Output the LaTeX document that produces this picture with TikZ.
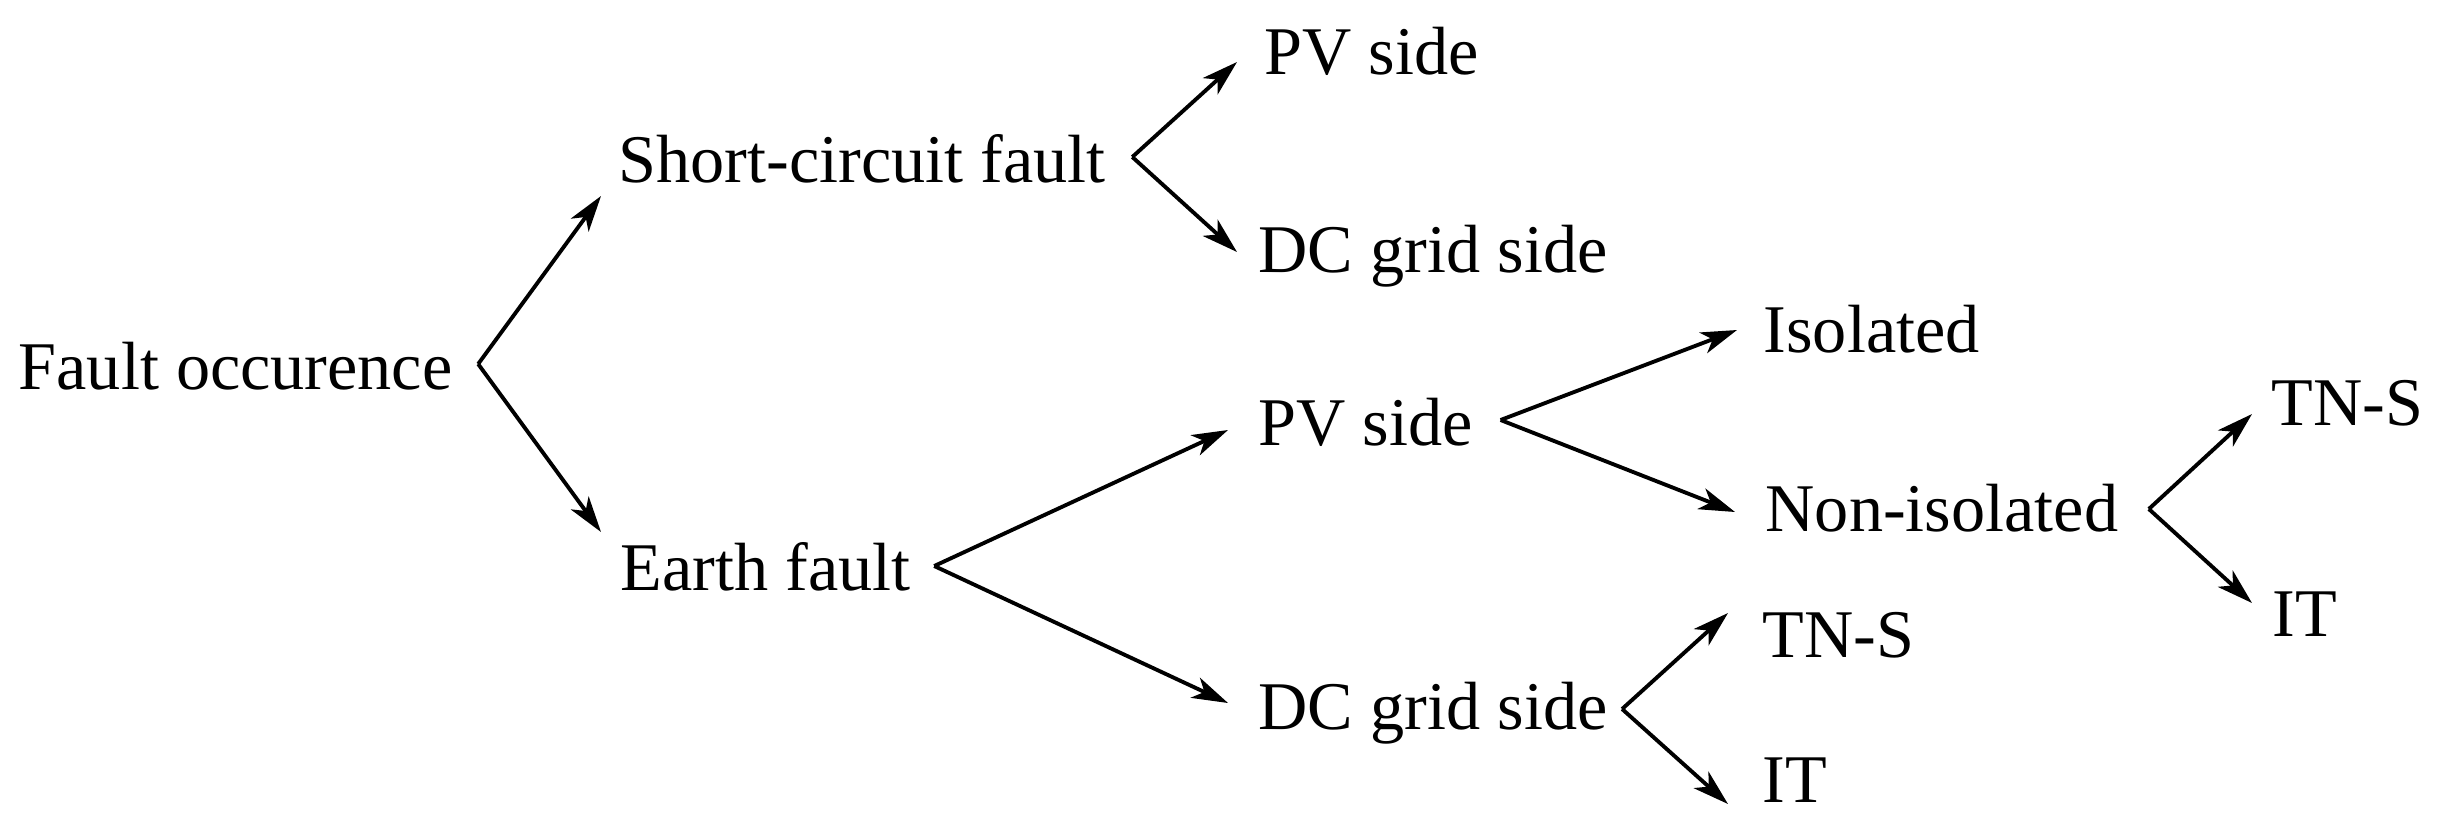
\documentclass[tikz,border=0pt]{standalone}
\usepackage{fontspec}
\setmainfont{Liberation Serif}
\usetikzlibrary{positioning, calc, arrows.meta}

\tikzset{
	txt/.style={inner sep=0pt, anchor=base west, font=\fontsize{19.4}{23}\selectfont},
	arr/.style={-{Stealth[length=0.36cm, width=0.22cm, inset=0.1cm]}, line width=1.1pt}
}

\begin{document}
\begin{tikzpicture}[x=0.01cm, y=-0.01cm]
		\useasboundingbox (0,0) rectangle (2440,827);
		
		%Nodi dell'albero dei guasti
		\node (fault) at (18,389) [txt] {Fault occurence};
		
		\node (shortCircuit) at (618,182) [txt] {Short-circuit fault};
		\node (earthFault) at (620,590) [txt] {Earth fault};
		
		\node (scPV) at (1264,74) [txt] {PV side};
		\node (scDC) at (1258,272) [txt] {DC grid side};
		\node (efPV) at (1258,445) [txt] {PV side};
		\node (efDC) at (1258,729) [txt] {DC grid side};
		
		\node (isolated) at (1763,352) [txt] {Isolated};
		\node (nonIsolated) at (1765,531) [txt] {Non-isolated};
		\node (dcTNS) at (1762,657) [txt] {TN-S};
		\node (dcIT) at (1762,802) [txt] {IT};
		
		\node (niTNS) at (2271,425) [txt] {TN-S};
		\node (niIT) at (2272,636) [txt] {IT};
		
		%Punti di diramazione
		\coordinate (faultFork) at ($(fault.base east)+(25,-25)$);
		\coordinate (scFork) at ($(shortCircuit.base east)+(26,-25)$);
		\coordinate (efFork) at ($(earthFault.base east)+(23,-24)$);
		\coordinate (pvFork) at ($(efPV.base east)+(27,-25)$);
		\coordinate (dcFork) at ($(efDC.base east)+(14,-20)$);
		\coordinate (niFork) at ($(nonIsolated.base east)+(30,-22)$);
		
		\draw[arr] (faultFork) -- ($(shortCircuit.base west)+(-17,14)$);
		\draw[arr] (faultFork) -- ($(earthFault.base west)+(-19,-58)$);
		\draw[arr] (scFork) -- ($(scPV.base west)+(-27,-12)$);
		\draw[arr] (scFork) -- ($(scDC.base west)+(-21,-20)$);
		\draw[arr] (efFork) -- ($(efPV.base west)+(-30,-15)$);
		\draw[arr] (efFork) -- ($(efDC.base west)+(-30,-26)$);
		\draw[arr] (pvFork) -- ($(isolated.base west)+(-26,-22)$);
		\draw[arr] (pvFork) -- ($(nonIsolated.base west)+(-30,-19)$);
		\draw[arr] (dcFork) -- ($(dcTNS.base west)+(-34,-44)$);
		\draw[arr] (dcFork) -- ($(dcIT.base west)+(-34,2)$);
		\draw[arr] (niFork) -- ($(niTNS.base west)+(-19,-11)$);
		\draw[arr] (niFork) -- ($(niIT.base west)+(-20,-33)$);
		
\end{tikzpicture}
\end{document}
